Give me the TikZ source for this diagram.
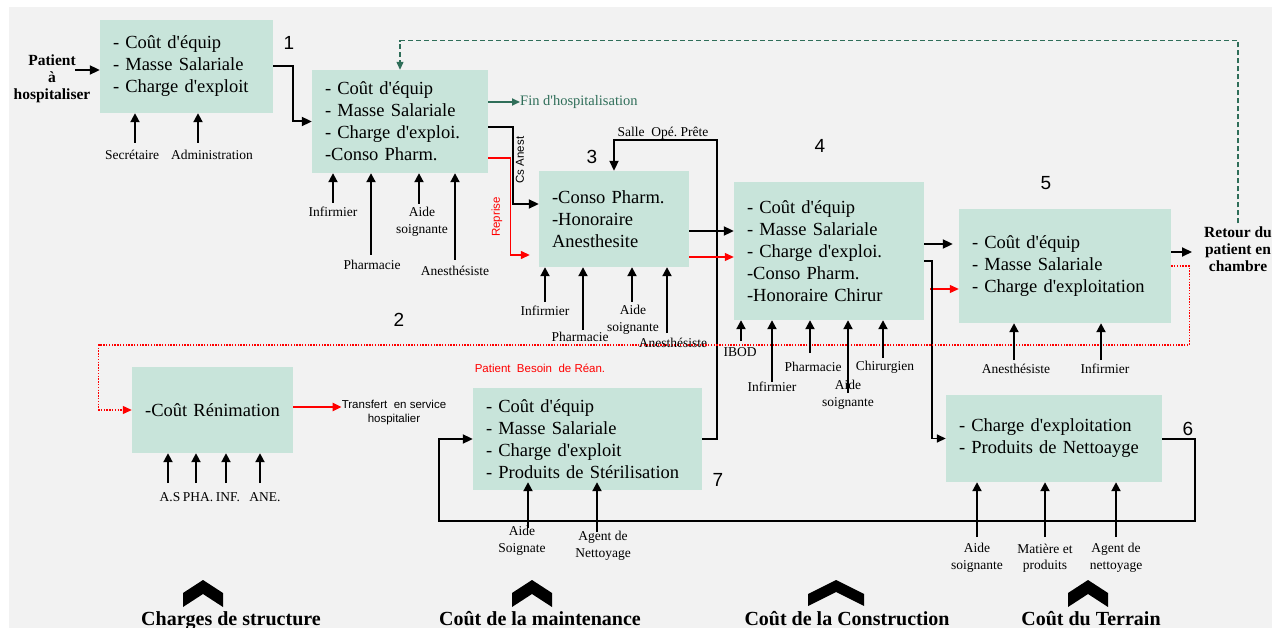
\documentclass[tikz,border=0pt]{standalone}
\usepackage{fontspec}
\setmainfont{Liberation Serif}[Ligatures=TeXOff]
\setsansfont{Liberation Sans}[Ligatures=TeXOff]
\usepackage{tikz}
\usetikzlibrary{
  arrows.meta,
  positioning,
  calc
}
\definecolor{hcBg}{HTML}{F2F2F2}
\definecolor{hcBox}{HTML}{C8E4DA}
\definecolor{hcGreen}{HTML}{2F6E59}
\definecolor{hcRed}{HTML}{FF0000}
\tikzset{
  costbox/.style={
    fill=hcBox, draw=none, align=left, inner xsep=13pt, inner ysep=0pt,
    font=\fontsize{18.5}{22}\selectfont
  },
  lbl/.style={font=\fontsize{13.5}{16.5}\selectfont, align=center, inner sep=0pt},
  entry/.style={font=\fontsize{15.5}{17}\selectfont\bfseries, align=center, inner xsep=12pt, inner ysep=3pt},
  sidetag/.style={font=\sffamily\fontsize{11.5}{14}\selectfont, align=center, inner sep=0pt},
  fintag/.style={font=\fontsize{14.5}{16}\selectfont, text=hcGreen, inner sep=0pt},
  numtag/.style={font=\sffamily\fontsize{19}{19}\selectfont, inner sep=0pt},
  costcap/.style={font=\fontsize{20}{24}\selectfont\bfseries, inner sep=0pt, anchor=base},
  flow/.style={-{Triangle[length=10pt, width=9pt]}, line width=2pt, black},
  flowthin/.style={-{Triangle[length=9pt, width=8pt]}, line width=1.5pt, black},
  feed/.style={-{Triangle[length=9pt, width=9pt]}, line width=2pt, black},
  redflow/.style={-{Triangle[length=9pt, width=8pt]}, line width=1.3pt, hcRed},
  redline/.style={-{Triangle[length=9pt, width=8pt]}, line width=1.1pt, hcRed},
  reaflow/.style={-{Triangle[length=9pt, width=8pt]}, line width=1.2pt, hcRed, dash pattern=on 1.4pt off 1.4pt},
  greenflow/.style={-{Triangle[length=8pt, width=7pt]}, line width=1.8pt, hcGreen},
  backflow/.style={-{Triangle[length=8pt, width=7pt]}, line width=1.2pt, hcGreen, dash pattern=on 5pt off 3pt}
}

\begin{document}
\begin{tikzpicture}[x=1pt, y=-1pt]
  \useasboundingbox (0,0) rectangle (1284,628);
  \fill[white] (0,0) rectangle (1284,628);
  \fill[hcBg] (9,7) rectangle (1272,628);

  \node[costbox, text width=147pt, minimum height=93pt] (acc) at (186.5,66.5) {- Coût d'équip\\- Masse Salariale\\- Charge d'exploit};
  \node[costbox, text width=150pt, minimum height=103pt] (hosp) at (400,121.5) {- Coût d'équip\\- Masse Salariale\\- Charge d'exploi.\\-Conso Pharm.};
  \node[costbox, text width=124pt, minimum height=96pt] (anes) at (614,219) {-Conso Pharm.\\-Honoraire\\Anesthesite};
  \node[costbox, text width=164pt, minimum height=138pt] (bloc) at (829,251) {- Coût d'équip\\- Masse Salariale\\- Charge d'exploi.\\-Conso Pharm.\\-Honoraire Chirur};
  \node[costbox, text width=186pt, minimum height=114pt] (sspi) at (1065,266) {- Coût d'équip\\- Masse Salariale\\- Charge d'exploitation};
  \node[costbox, align=center, text width=135pt, minimum height=86pt] (rea) at (212.5,410) {-Coût Rénimation};
  \node[costbox, text width=203pt, minimum height=102pt] (steril) at (587.5,439) {- Coût d'équip\\- Masse Salariale\\- Charge d'exploit\\- Produits de Stérilisation};
  \node[costbox, text width=190pt, minimum height=87pt] (menage) at (1054,438.5) {- Charge d'exploitation\\- Produits de Nettoayge};

  \node[numtag] (n1) at (289,43) {1};
  \node[numtag] (n2) at (399,320) {2};
  \node[numtag] (n3) at (592,157) {3};
  \node[numtag] (n4) at (820,146) {4};
  \node[numtag] (n5) at (1046,183) {5};
  \node[numtag] (n6) at (1188,429) {6};
  \node[numtag] (n7) at (718,480) {7};

  \node[entry] (pat) at (52,79) {Patient\\à\\hospitaliser};
  \node[entry] (ret) at (1238,249) {Retour du\\patient en\\chambre};
  \node[fintag, anchor=west] (fin) at (520,102) {Fin d'hospitalisation};
  \node[sidetag, rotate=90] (csa) at (520,160) {Cs Anest};
  \node[sidetag, rotate=90, text=hcRed] (rep) at (497,217) {Reprise};
  \node[lbl] (salle) at (663,133) {Salle\ \ Opé.\ Prête};
  \node[sidetag] (trf) at (394,413) {Transfert\ \ en service\\hospitalier};
  \node[sidetag, text=hcRed] (besoin) at (540,368) {Patient\ \ Besoin\ \ de Réan.};

  \coordinate (patIn) at (75,70);
  \draw[flow] (patIn) -- (patIn -| acc.west);
  \draw[flow] (acc.east) -- ++(20,0) |- (hosp.west);
  \draw[greenflow] (hosp.east |- fin.west) -- (fin.west);
  \draw[backflow] (ret.north) |- ([yshift=29pt]hosp.north) -- (hosp.north);
  \draw[flow, line width=1.8pt] ([yshift=-5.5pt]hosp.east) -- ++(25,0) |- ([yshift=15pt]anes.west);
  \draw[redflow] ([yshift=-36.5pt]hosp.east) -- ++(22,0) |- ([xshift=-9pt, yshift=-36pt]anes.west);
  \draw[flow] (steril.east) -- ++(15,0) |- ([yshift=31pt]anes.north) -- (anes.north);
  \draw[flow] ([yshift=-12pt]anes.east) -- ([yshift=-12pt]anes.east -| bloc.west);
  \draw[redline] ([yshift=-38pt]anes.east) -- ([yshift=-38pt]anes.east -| bloc.west);
  \draw[flow] ([yshift=7pt]bloc.east) -- ([xshift=-6pt, yshift=7pt]bloc.east -| sspi.west);
  \draw[redline] ([xshift=6pt, yshift=-23pt]bloc.east |- sspi.west) -- ([yshift=-23pt]sspi.west);
  \draw[flowthin] ([yshift=-10pt]bloc.east) -- ++(8,0) |- (menage.west);
  \draw[flow] ([yshift=14pt]sspi.east) -- ([yshift=14pt]sspi.east -| ret.west);
  \draw[reaflow] (sspi.east) -- ++(18,0) -- ++(0,79) -| ([xshift=-33pt]rea.west) -- (rea.west);
  \draw[redflow, line width=2.2pt] ([yshift=3pt]rea.east) -- ([yshift=3pt]rea.east -| trf.west);
  \draw[flow] (menage.east) -- ++(33,0) -- ++(0,82) -| ([xshift=-34pt]steril.west) -- (steril.west);

  \node[lbl] (sec) at (132,155) {Secrétaire};
  \node[lbl] (adm) at (212,155) {Administration};
  \coordinate (fSec) at (135,143);
  \coordinate (fAdm) at (198,143);
  \draw[feed] (fSec) -- (fSec |- acc.south);
  \draw[feed] (fAdm) -- (fAdm |- acc.south);

  \node[lbl] (hInf) at (333,212) {Infirmier};
  \node[lbl] (hPha) at (372,265) {Pharmacie};
  \node[lbl] (hAid) at (422,222) {Aide\\soignante};
  \node[lbl] (hAne) at (455,271) {Anesthésiste};
  \coordinate (fhInf) at (333,203);
  \coordinate (fhPha) at (371,255);
  \coordinate (fhAid) at (419,204);
  \coordinate (fhAne) at (455,260);
  \draw[feed] (fhInf) -- (fhInf |- hosp.south);
  \draw[feed] (fhPha) -- (fhPha |- hosp.south);
  \draw[feed] (fhAid) -- (fhAid |- hosp.south);
  \draw[feed] (fhAne) -- (fhAne |- hosp.south);

  \node[lbl] (aInf) at (545,311) {Infirmier};
  \node[lbl] (aPha) at (580,337) {Pharmacie};
  \node[lbl] (aAid) at (633,320) {Aide\\soignante};
  \node[lbl] (aAne) at (673,343) {Anesthésiste};
  \coordinate (faInf) at (545,302);
  \coordinate (faPha) at (583,330);
  \coordinate (faAid) at (632,302);
  \coordinate (faAne) at (667,333);
  \draw[feed] (faInf) -- (faInf |- anes.south);
  \draw[feed] (faPha) -- (faPha |- anes.south);
  \draw[feed] (faAid) -- (faAid |- anes.south);
  \draw[feed] (faAne) -- (faAne |- anes.south);

  \node[lbl] (bIbo) at (740,352) {IBOD};
  \node[lbl] (bInf) at (772,387) {Infirmier};
  \node[lbl] (bPha) at (813,367) {Pharmacie};
  \node[lbl] (bAid) at (848,395) {Aide\\soignante};
  \node[lbl] (bChi) at (885,367) {Chirurgien};
  \coordinate (fbIbo) at (741,341);
  \coordinate (fbInf) at (772,382);
  \coordinate (fbPha) at (810,353);
  \coordinate (fbAid) at (848,393);
  \coordinate (fbChi) at (883,358);
  \draw[feed] (fbIbo) -- (fbIbo |- bloc.south);
  \draw[feed] (fbInf) -- (fbInf |- bloc.south);
  \draw[feed] (fbPha) -- (fbPha |- bloc.south);
  \draw[feed] (fbAid) -- (fbAid |- bloc.south);
  \draw[feed] (fbChi) -- (fbChi |- bloc.south);

  \node[lbl] (sAne) at (1016,369) {Anesthésiste};
  \node[lbl] (sInf) at (1105,369) {Infirmier};
  \coordinate (fsAne) at (1014,360);
  \coordinate (fsInf) at (1101,360);
  \draw[feed] (fsAne) -- (fsAne |- sspi.south);
  \draw[feed] (fsInf) -- (fsInf |- sspi.south);

  \node[lbl] (rAs) at (170,497) {A.S};
  \node[lbl] (rPha) at (198,497) {PHA.};
  \node[lbl] (rInf) at (228,497) {INF.};
  \node[lbl] (rAne) at (265,497) {ANE.};
  \coordinate (frAs) at (168,483);
  \coordinate (frPha) at (196,483);
  \coordinate (frInf) at (226,483);
  \coordinate (frAne) at (260,483);
  \draw[feed] (frAs) -- (frAs |- rea.south);
  \draw[feed] (frPha) -- (frPha |- rea.south);
  \draw[feed] (frInf) -- (frInf |- rea.south);
  \draw[feed] (frAne) -- (frAne |- rea.south);

  \node[lbl] (tAid) at (522,541) {Aide\\Soignate};
  \node[lbl] (tAge) at (603,546) {Agent de\\Nettoyage};
  \coordinate (ftAid) at (528,528);
  \coordinate (ftAge) at (597,532);
  \draw[feed] (ftAid) -- ([yshift=8pt]ftAid |- steril.south);
  \draw[feed] (ftAge) -- ([yshift=8pt]ftAge |- steril.south);

  \node[lbl] (mAid) at (977,558) {Aide\\soignante};
  \node[lbl] (mMat) at (1045,558) {Matière et\\produits};
  \node[lbl] (mAge) at (1116,558) {Agent de\\nettoyage};
  \coordinate (fmAid) at (977,537);
  \coordinate (fmMat) at (1045,537);
  \coordinate (fmAge) at (1116,537);
  \draw[feed] (fmAid) -- (fmAid |- menage.south);
  \draw[feed] (fmMat) -- (fmMat |- menage.south);
  \draw[feed] (fmAge) -- (fmAge |- menage.south);

  \fill (183,593) -- (203,580) -- (223,593) -- (223,607) -- (203,594) -- (183,607) -- cycle;
  \fill (512,593) -- (532,580) -- (552,593) -- (552,607) -- (532,594) -- (512,607) -- cycle;
  \fill (808,594) -- (836,580) -- (864,594) -- (864,606) -- (836,592) -- (808,606) -- cycle;
  \fill (1068,593) -- (1088,580) -- (1108,593) -- (1108,607) -- (1088,594) -- (1068,607) -- cycle;
  \node[costcap] (cStruct) at (231,625) {Charges de structure};
  \node[costcap] (cMaint) at (540,625) {Coût de la maintenance};
  \node[costcap] (cConst) at (847,625) {Coût de la Construction};
  \node[costcap] (cTerrain) at (1091,625) {Coût du Terrain};
\end{tikzpicture}
\end{document}
